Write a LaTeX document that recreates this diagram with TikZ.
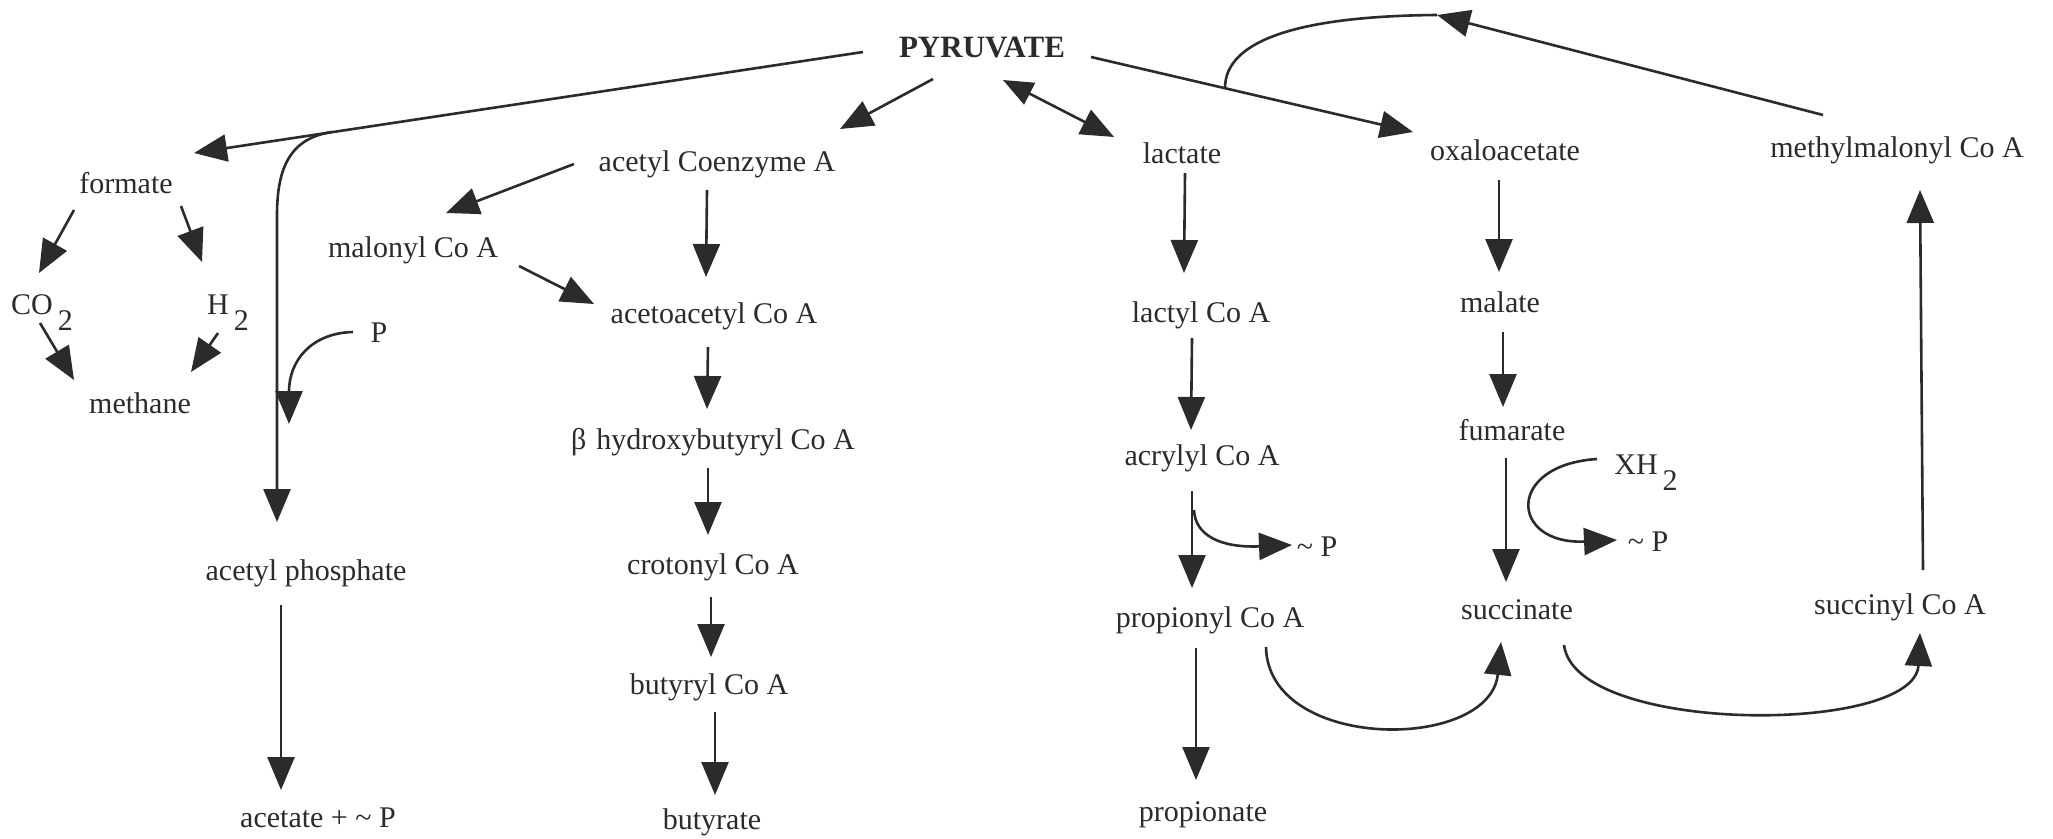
\documentclass[tikz,border=0pt]{standalone}
\usepackage{fontspec}
\setmainfont{Liberation Serif}
\usetikzlibrary{arrows.meta,calc}
\definecolor{ink}{HTML}{2B2B2B}
\begin{document}
\begin{tikzpicture}[x=1pt,y=-1pt,
  lbl/.style={inner sep=0pt,text=ink,font=\fontsize{30}{36}\selectfont},
  arr/.style={draw=ink,line width=2.6pt,-{Triangle[length=33pt,width=27pt]}},
  arrboth/.style={draw=ink,line width=2.6pt,{Triangle[length=30pt,width=24pt]}-{Triangle[length=33pt,width=27pt]}},
  ln/.style={draw=ink,line width=2.6pt}]
\useasboundingbox (0,0) rectangle (2053,838);
\fill[white] (0,0) rectangle (2053,838);

% nodes
\node[lbl,font=\fontsize{31}{36}\selectfont\bfseries] (pyr) at (982,48) {PYRUVATE};
\node[lbl] (form) at (126,183) {formate};
\node[lbl] (co2) at (42,305) {CO\,\smash{\raisebox{-16pt}{2}}};
\node[lbl] (h2) at (228,305) {H\,\smash{\raisebox{-16pt}{2}}};
\node[lbl] (meth) at (140,403) {methane};
\node[lbl] (P) at (379,333) {P};
\node[lbl] (acph) at (306,573) {acetyl phosphate};
\node[lbl] (acet) at (318,818) {acetate + \textasciitilde\ P};
\node[lbl] (acoa) at (717,164) {acetyl Coenzyme A};
\node[lbl] (mal) at (413,250) {malonyl Co A};
\node[lbl] (aaco) at (714,316) {acetoacetyl Co A};
\node[lbl] (bhb) at (713,442) {β\hspace{10pt}hydroxybutyryl Co A};
\node[lbl] (crot) at (713,567) {crotonyl Co A};
\node[lbl] (buty) at (709,687) {butyryl Co A};
\node[lbl] (butr) at (712,822) {butyrate};
\node[lbl] (lact) at (1182,153) {lactate};
\node[lbl] (lacty) at (1201,315) {lactyl Co A};
\node[lbl] (acry) at (1202,458) {acrylyl Co A};
\node[lbl] (tp1) at (1317,547) {\textasciitilde\ P};
\node[lbl] (prop) at (1210,620) {propionyl Co A};
\node[lbl] (propt) at (1203,815) {propionate};
\node[lbl] (oxa) at (1505,150) {oxaloacetate};
\node[lbl] (malt) at (1500,302) {malate};
\node[lbl] (fum) at (1512,430) {fumarate};
\node[lbl] (xh2) at (1646,465) {XH\,\smash{\raisebox{-16pt}{2}}};
\node[lbl] (tp2) at (1648,542) {\textasciitilde\ P};
\node[lbl] (succ) at (1517,610) {succinate};
\node[lbl] (sucoa) at (1900,607) {succinyl Co A};
\node[lbl] (mmcoa) at (1897,150) {methylmalonyl Co A};

\coordinate (br) at (332,132);
\coordinate (br2) at (1225,88);
\coordinate (top) at (1437,15);

% connectors
\draw[arr] ($(pyr)+(-119,4)$) -- ($(form)+(68,-30)$);
\draw[arr] (br) .. controls (292,138) and (277,165) .. (277,215) -- ($(acph)+(-29,-51)$);
\draw[arr] ($(P)+(-26,-1)$) .. controls (312,333) and (289,360) .. ($(P)+(-90,91)$);
\draw[arr] ($(acph)+(-25,32)$) -- ($(acet)+(-37,-28)$);
\draw[arr] ($(form)+(-52,27)$) -- ($(co2)+(-3,-32)$);
\draw[arr] ($(form)+(55,23)$) -- ($(h2)+(-26,-43)$);
\draw[arr] ($(co2)+(-2,18)$) -- ($(meth)+(-66,-23)$);
\draw[arr] ($(h2)+(-10,28)$) -- ($(meth)+(51,-31)$);
\draw[arr] ($(pyr)+(-49,31)$) -- ($(acoa)+(123,-35)$);
\draw[arr] ($(acoa)+(-143,0)$) -- ($(mal)+(33,-37)$);
\draw[arr] ($(mal)+(106,16)$) -- ($(aaco)+(-120,-12)$);
\draw[arr] ($(acoa)+(-10,26)$) -- ($(aaco)+(-8,-39)$);
\draw[arr] ($(aaco)+(-6,31)$) -- ($(bhb)+(-6,-33)$);
\draw[arr] ($(bhb)+(-5,26)$) -- ($(crot)+(-5,-32)$);
\draw[arr] ($(crot)+(-2,30)$) -- ($(buty)+(2,-30)$);
\draw[arr] ($(buty)+(6,25)$) -- ($(butr)+(3,-27)$);
\draw[arrboth] ($(pyr)+(21,32)$) -- ($(lact)+(-68,-16)$);
\draw[arr] ($(pyr)+(109,9)$) -- ($(oxa)+(-92,-18)$);
\draw[ln] (br2) .. controls (1225,40) and (1300,16) .. (top);
\draw[arr] ($(mmcoa)+(-74,-35)$) -- (top);
\draw[arr] ($(lact)+(3,20)$) -- ($(lacty)+(-17,-42)$);
\draw[arr] ($(lacty)+(-9,23)$) -- ($(acry)+(-11,-28)$);
\draw[arr] ($(acry)+(-10,33)$) -- ($(prop)+(-18,-32)$);
\draw[arr] ($(acry)+(-8,52)$) .. controls (1195,535) and (1220,548) .. ($(tp1)+(-25,-2)$);
\draw[arr] ($(prop)+(-14,28)$) -- ($(propt)+(-7,-35)$);
\draw[arr] ($(prop)+(56,27)$) .. controls (1268,752) and (1490,752) .. ($(succ)+(-16,32)$);
\draw[arr] ($(oxa)+(-6,30)$) -- ($(malt)+(-1,-30)$);
\draw[arr] ($(malt)+(3,30)$) -- ($(fum)+(-9,-23)$);
\draw[arr] ($(fum)+(-6,28)$) -- ($(succ)+(-11,-28)$);
\draw[arr] ($(xh2)+(-49,-6)$) .. controls (1505,465) and (1510,545) .. ($(tp2)+(-31,-2)$);
\draw[arr] ($(succ)+(47,35)$) .. controls (1575,735) and (1915,735) .. ($(sucoa)+(20,26)$);
\draw[arr] ($(sucoa)+(23,-37)$) -- ($(mmcoa)+(23,40)$);
\end{tikzpicture}
\end{document}
